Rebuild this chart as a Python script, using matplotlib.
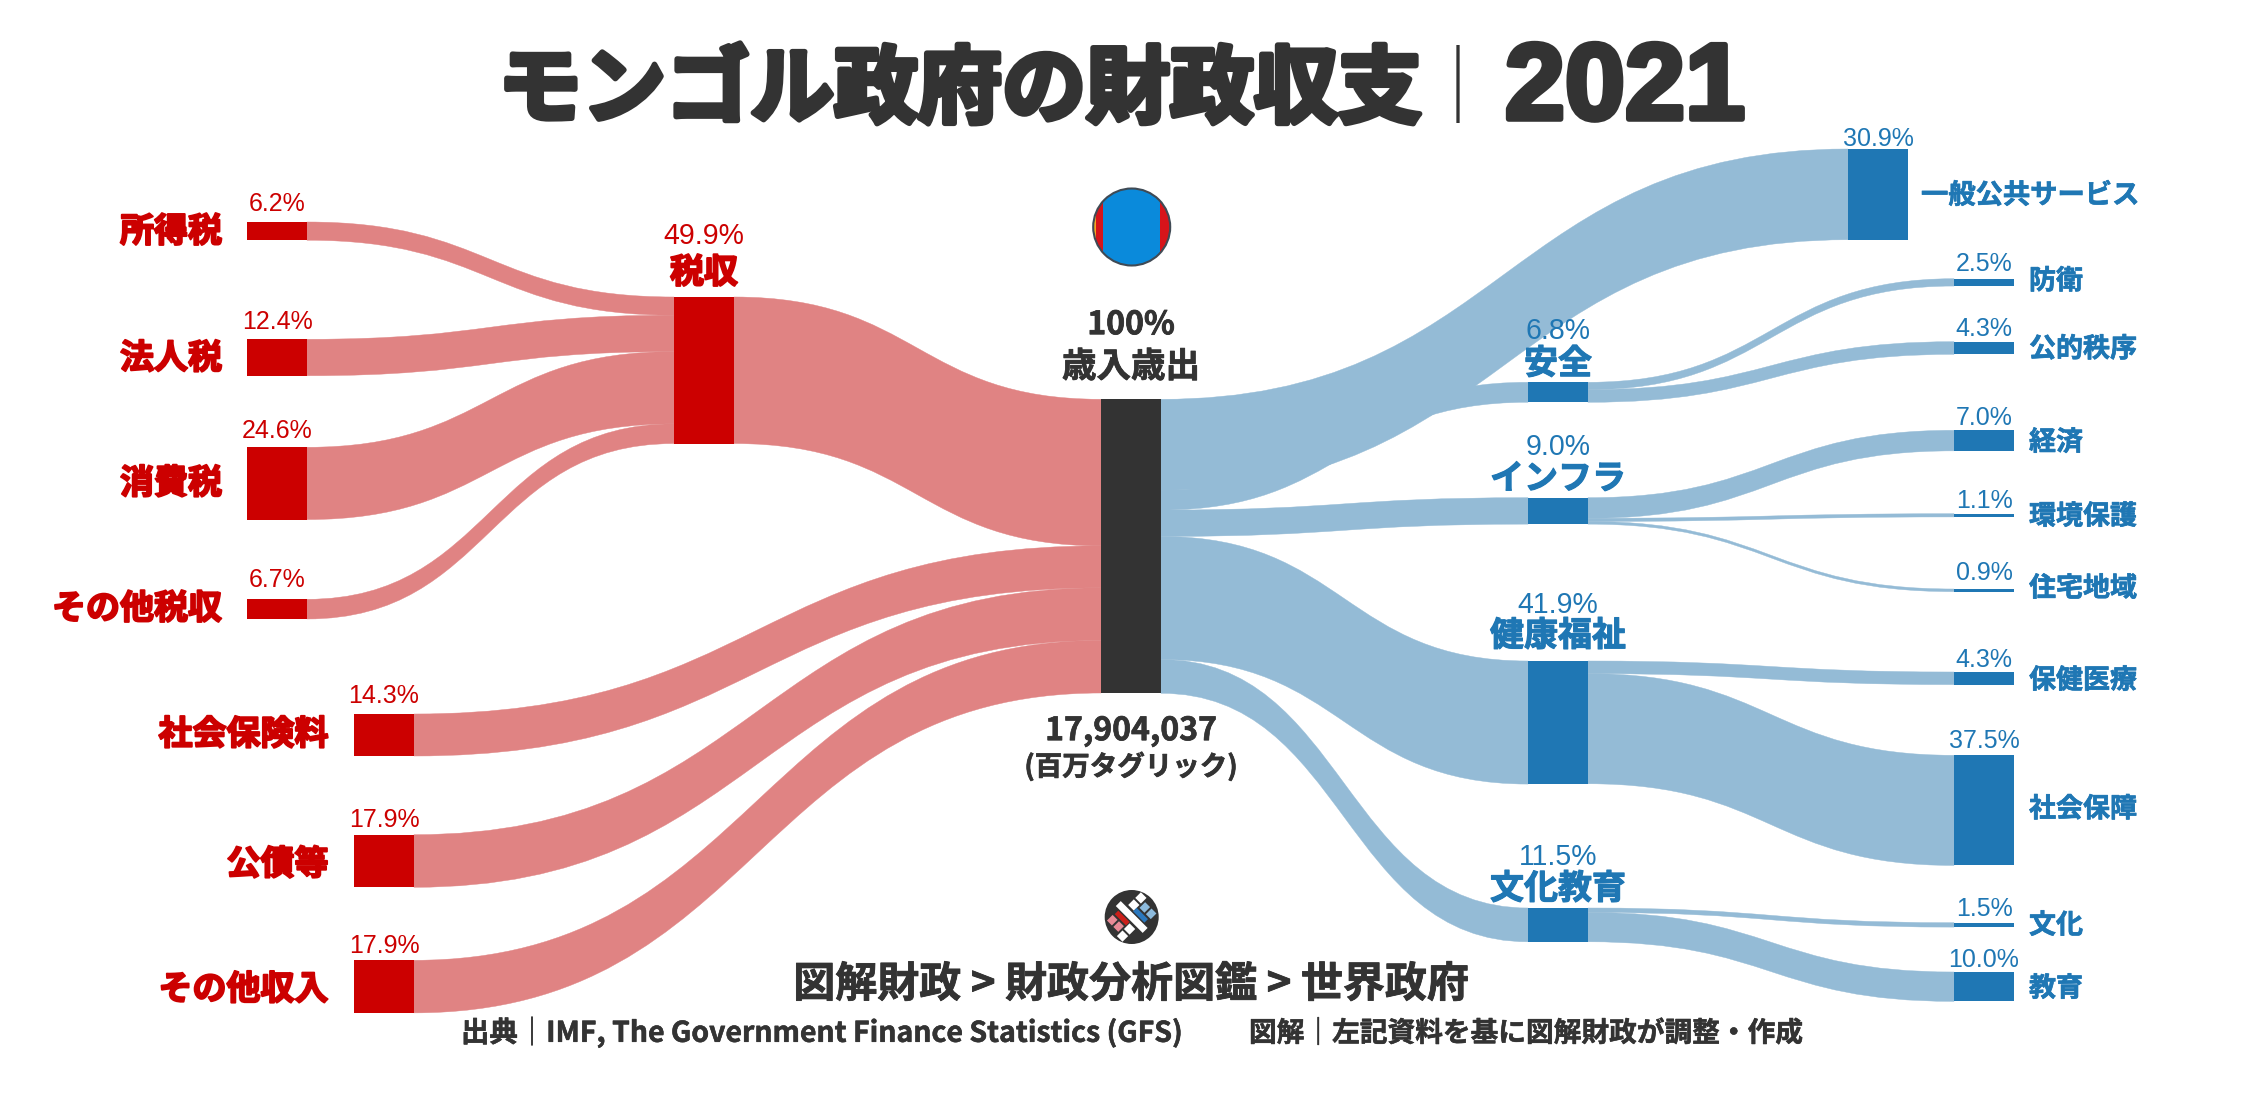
import matplotlib
matplotlib.use('Agg')
import matplotlib.pyplot as plt
from matplotlib.path import Path
from matplotlib.patches import PathPatch, Rectangle, Circle
from matplotlib.transforms import Affine2D
import matplotlib.patheffects as pe

plt.rcParams['font.family'] = ['Noto Sans CJK JP', 'DejaVu Sans']

# ---------- data (percent of the total budget) ----------
tax_items = ['所得税', '法人税', '消費税', 'その他税収']
tax_values = [6.2, 12.4, 24.6, 6.7]
tax_total_label = '税収'
tax_total = 49.9
other_rev_items = ['社会保険料', '公債等', 'その他収入']
other_rev_values = [14.3, 17.9, 17.9]
center_labels = ['100%', '歳入歳出', '17,904,037', '(百万タグリック)']
general_label = '一般公共サービス'
general_value = 30.9
group_names = ['安全', 'インフラ', '健康福祉', '文化教育']
group_values = [6.8, 9.0, 41.9, 11.5]
security_items = ['防衛', '公的秩序']
security_values = [2.5, 4.3]
infra_items = ['経済', '環境保護', '住宅地域']
infra_values = [7.0, 1.1, 0.9]
health_items = ['保健医療', '社会保障']
health_values = [4.3, 37.5]
culture_items = ['文化', '教育']
culture_values = [1.5, 10.0]

TITLE_MAIN = 'モンゴル政府の財政収支'
TITLE_BAR = '｜'
TITLE_YEAR = '2021'
NAV = '図解財政 > 財政分析図鑑 > 世界政府'
SRC1 = '出典｜IMF, The Government Finance Statistics (GFS)'
SRC2 = '図解｜左記資料を基に図解財政が調整・作成'

# ---------- style / layout (pixels of the 2247x1096 canvas) ----------
RED, RED_L = '#CC0000', '#E08383'
BLUE, BLUE_L = '#1F77B4', '#94BBD6'
DARK = '#333333'
K = 2.937      # px per percent
NW = 60        # node width
X_TAX, X_OTHER, X_SUB, X_MID, X_GROUP, X_GEN, X_LEAF = 247, 354, 674, 1101, 1528, 1848, 1954

fig = plt.figure(figsize=(22.47, 10.96), dpi=100, facecolor='white')
ax = fig.add_axes([0, 0, 1, 1])
ax.set_xlim(0, 2247)
ax.set_ylim(1096, 0)
ax.axis('off')


def node(x, top, value, color):
    ax.add_patch(Rectangle((x, top), NW, value * K, fc=color, ec='none', zorder=3))


def link(x0, y0, x1, y1, value, color):
    h = value * K
    xm = (x0 + x1) / 2
    verts = [(x0, y0), (xm, y0), (xm, y1), (x1, y1),
             (x1, y1 + h), (xm, y1 + h), (xm, y0 + h), (x0, y0 + h), (x0, y0)]
    codes = [Path.MOVETO, Path.CURVE4, Path.CURVE4, Path.CURVE4, Path.LINETO,
             Path.CURVE4, Path.CURVE4, Path.CURVE4, Path.CLOSEPOLY]
    ax.add_patch(PathPatch(Path(verts, codes), fc=color, ec=color, lw=0.3, zorder=2))


def txt(x, yc, s, px, color, ha='center', heavy=0.0, sans=False, weight='bold'):
    """Place text by the visual centre of the glyphs; px = em size in pixels."""
    if sans:
        t = ax.text(x, yc + 0.35 * px, s, fontsize=px * 0.72, color=color, ha=ha,
                    va='baseline', family=['Liberation Sans', 'DejaVu Sans'],
                    fontweight=weight if weight != 'bold' else 'normal', zorder=5)
    else:
        t = ax.text(x, yc + 0.38 * px, s, fontsize=px * 0.72, color=color, ha=ha,
                    va='baseline', fontweight=weight, zorder=5)
    if heavy:
        t.set_path_effects([pe.withStroke(linewidth=heavy, foreground=color)])
    return t


def pct(v):
    return f'{v:.1f}%'


# ---------- revenue side ----------
tax_tops = [222, 339.3, 447.3, 599.3]
tax_label_y = [229, 355.7, 480.7, 606]
tax_pct_y = [202, 320.7, 429, 578]
SUB_TOP = 297
y = SUB_TOP
for name, v, top, ly, py in zip(tax_items, tax_values, tax_tops, tax_label_y, tax_pct_y):
    link(X_TAX + NW, top, X_SUB, y, v, RED_L)
    node(X_TAX, top, v, RED)
    txt(222, ly, name, 34, RED, ha='right', heavy=1.4)
    txt(X_TAX + NW / 2, py, pct(v), 25, RED, sans=True)
    y += v * K
node(X_SUB, SUB_TOP, tax_total, RED)
txt(X_SUB + NW / 2, 270, tax_total_label, 34, RED, heavy=1.4)
txt(X_SUB + NW / 2, 234, pct(tax_total), 28.5, RED, sans=True)

MID_TOP = 399.3
link(X_SUB + NW, SUB_TOP, X_MID, MID_TOP, tax_total, RED_L)
y = MID_TOP + tax_total * K
other_tops = [714, 834.7, 960.3]
other_label_y = [731.7, 861.7, 986.7]
other_pct_y = [694, 818, 944]
for name, v, top, ly, py in zip(other_rev_items, other_rev_values, other_tops, other_label_y, other_pct_y):
    link(X_OTHER + NW, top, X_MID, y, v, RED_L)
    node(X_OTHER, top, v, RED)
    txt(328.5, ly, name, 34, RED, ha='right', heavy=1.4)
    txt(X_OTHER + NW / 2, py, pct(v), 25, RED, sans=True)
    y += v * K

# ---------- centre ----------
node(X_MID, MID_TOP, 100, DARK)
txt(X_MID + NW / 2, 322, center_labels[0], 32, DARK, heavy=0.6)
txt(X_MID + NW / 2, 364, center_labels[1], 34.5, DARK, heavy=0.6)
txt(X_MID + NW / 2, 728, center_labels[2], 32, DARK, heavy=0.5)
txt(X_MID + NW / 2, 765, center_labels[3], 27.5, DARK, heavy=0.5)

# ---------- spending side ----------
y = MID_TOP
GEN_TOP = 149
link(X_MID + NW, y, X_GEN, GEN_TOP, general_value, BLUE_L)
node(X_GEN, GEN_TOP, general_value, BLUE)
txt(X_GEN + NW / 2, 137, pct(general_value), 25, BLUE, sans=True)
txt(1921, 193, general_label, 27.3, BLUE, ha='left', heavy=0.5)
y += general_value * K

group_tops = [382.3, 497.7, 661, 908]
group_label_y = [361, 476, 633, 886]
group_pct_y = [329, 445, 603, 855]
children = [
    (security_items, security_values, [278.7, 341.7], [278.7, 346.7], [262, 327]),
    (infra_items, infra_values, [430.3, 513.7, 589], [440, 514, 586], [416, 499, 571]),
    (health_items, health_values, [672, 755.3], [678, 806.7], [658, 739]),
    (culture_items, culture_values, [922.7, 972], [923, 986], [907, 958]),
]
for name, v, top, ly, py, kids in zip(group_names, group_values, group_tops,
                                      group_label_y, group_pct_y, children):
    link(X_MID + NW, y, X_GROUP, top, v, BLUE_L)
    node(X_GROUP, top, v, BLUE)
    txt(X_GROUP + NW / 2, ly, name, 34, BLUE, heavy=0.8)
    txt(X_GROUP + NW / 2, py, pct(v), 28.5, BLUE, sans=True)
    y += v * K
    yy = top
    for kn, kv, kt, kl, kp in zip(*kids):
        link(X_GROUP + NW, yy, X_LEAF, kt, kv, BLUE_L)
        node(X_LEAF, kt, kv, BLUE)
        txt(2029, kl, kn, 27, BLUE, ha='left', heavy=0.5)
        txt(X_LEAF + NW / 2, kp, pct(kv), 25, BLUE, sans=True)
        yy += kv * K

# ---------- flag ----------
FX, FY, FR = 1131.7, 227, 38.5
clip = Circle((FX, FY), FR, transform=ax.transData)
for x0, x1, c in [(FX - FR, FX - FR + 2.5, '#F5A623'), (FX - FR + 2.5, 1103, '#D7141A'),
                  (1103, 1160, '#0A8ADB'), (1160, FX + FR, '#D7141A')]:
    r = Rectangle((x0, FY - FR), x1 - x0, 2 * FR, fc=c, ec='none', zorder=4)
    ax.add_patch(r)
    r.set_clip_path(clip)
ax.add_patch(Circle((FX, FY), FR, fc='none', ec='#3F4A55', lw=1.5, zorder=5))

# ---------- logo ----------
LX, LY, LR = 1131.7, 917, 27
ax.add_patch(Circle((LX, LY), LR, fc=DARK, ec='none', zorder=4))
rot = Affine2D().scale(1, -1).rotate_deg(45).translate(LX, LY) + ax.transData
for u0, v0, w, h, c in [(-19, -3.5, 38, 7, 'white'),
                        (-11, 6, 8, 8, 'white'), (-11, 16, 8, 8, 'white'),
                        (3, -14, 8, 8, 'white'), (3, -24, 8, 8, 'white'),
                        (-14, -10, 16, 5, '#CC1F1A'), (-3, 5, 16, 5, '#2A78BE'),
                        (-15, -20, 7, 8, '#E88A96'), (-6, -20, 7, 8, '#E88A96'),
                        (-1, 12, 7, 8, '#8DBBDD'), (8, 12, 7, 8, '#8DBBDD')]:
    ax.add_patch(Rectangle((u0, v0), w, h, fc=c, ec='none', zorder=5, transform=rot))

# ---------- titles ----------
txt(960, 84, TITLE_MAIN, 84, DARK, heavy=4)
txt(1458, 84, TITLE_BAR, 78, DARK, weight='normal')
t = ax.text(1625, 119, TITLE_YEAR, fontsize=108 * 0.72, color=DARK, ha='center', va='baseline',
            family='Liberation Sans', fontweight='bold', zorder=5)
t.set_path_effects([pe.withStroke(linewidth=4, foreground=DARK)])
txt(1131, 981, NAV, 42, DARK, heavy=0.6)
txt(461, 1031, SRC1, 28.4, DARK, ha='left', heavy=0.4)
txt(1249, 1031, SRC2, 27.7, DARK, ha='left', heavy=0.4)

fig.savefig('out.png', dpi=100, facecolor='white')
